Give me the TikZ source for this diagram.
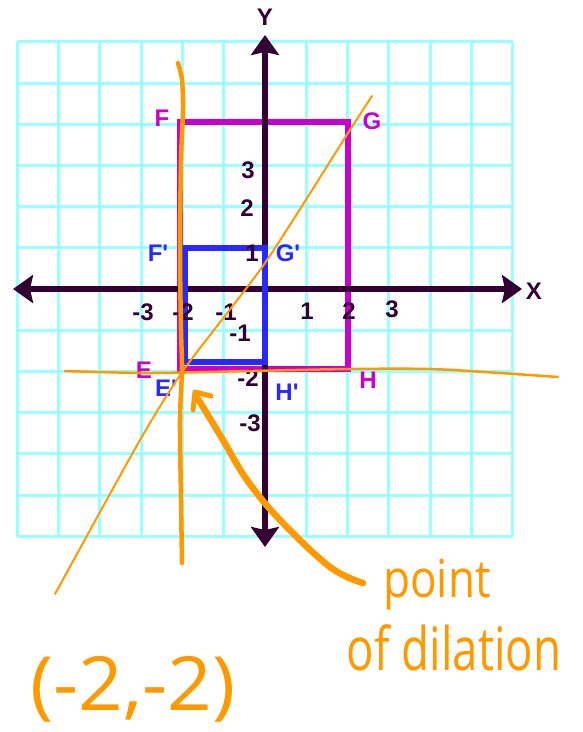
\documentclass[tikz,border=0pt]{standalone}
\usepackage{fontspec}
\setmainfont{Liberation Sans}
\newfontfamily\hand{Open Sans}
\usetikzlibrary{arrows.meta}
\definecolor{gridc}{RGB}{153,255,255}
\definecolor{axisc}{RGB}{51,0,51}
\definecolor{magc}{RGB}{204,0,204}
\definecolor{bluec}{RGB}{40,40,255}
\definecolor{orc}{RGB}{255,153,0}
\begin{document}
\begin{tikzpicture}[x=1pt,y=-1pt,
  gridline/.style={gridc, line width=3pt},
  axisline/.style={axisc, line width=6pt, {Stealth[length=20pt,width=28pt,inset=3pt]}-{Stealth[length=20pt,width=28pt,inset=3pt]}},
  lab/.style={font=\fontsize{24}{24}\selectfont\bfseries, inner sep=0pt},
  axlab/.style={lab, text=axisc},
  mlab/.style={lab, text=magc},
  blab/.style={lab, text=bluec},
  ornline/.style={orc, line cap=round, line join=round},
  handtext/.style={text=orc, inner sep=0pt, anchor=base}]
\useasboundingbox (0,0) rectangle (583,732);
\fill[white] (0,0) rectangle (583,732);
% grid
\begin{scope}[shift={(265,289)}, x=41.3pt, y=41.2pt]
  \foreach \i in {-6,...,6} {
    \draw[gridline] (\i,-6) -- (\i,6);
    \draw[gridline] (-6,\i) -- (6,\i);
  }
  % magenta rectangle EFGH
  \draw[magc, line width=6pt] (-2.06,-1.95) rectangle (2.01,4.05);
\end{scope}
% axes
\draw[axisline] (13,289) -- (522,289);
\draw[axisline] (265,35) -- (265,547);
% blue rectangle E'F'G'H'
\begin{scope}[shift={(265,289)}, x=41.3pt, y=41.2pt]
  \draw[bluec, line width=6pt] (-1.93,-1.77) rectangle (0,1);
\end{scope}
% axis names
\node[axlab] (ylab) at (265,17) {Y};
\node[axlab] (xlab) at (534,291) {X};
% tick labels
\node[axlab] (y3) at (248,170) {3};
\node[axlab] (y2) at (247,208) {2};
\node[axlab] (y1) at (252,253) {1};
\node[axlab] (ym1) at (240,333) {-1};
\node[axlab] (ym2) at (248,378) {-2};
\node[axlab] (ym3) at (250,423) {-3};
\node[axlab] (xm3) at (143,312) {-3};
\node[axlab] (xm2) at (183,312) {-2};
\node[axlab] (xm1) at (226,312) {-1};
\node[axlab] (x1) at (307,311) {1};
\node[axlab] (x2) at (349,311) {2};
\node[axlab] (x3) at (392,309) {3};
% vertex labels
\node[mlab] (F) at (162,118) {F};
\node[mlab] (G) at (372,121) {G};
\node[mlab] (E) at (144,370) {E};
\node[mlab] (H) at (368,380) {H};
\node[blab] (Fp) at (158,253) {F\textquotesingle};
\node[blab] (Gp) at (288,253) {G\textquotesingle};
\node[blab] (Ep) at (166,388) {E\textquotesingle};
\node[blab] (Hp) at (287,392) {H\textquotesingle};
% orange hand-drawn lines
\draw[ornline, line width=2pt] plot[smooth, tension=0.4] coordinates {(372,96) (348,133) (265,263) (185,368) (140,440) (55,594)};
\draw[ornline, line width=4.5pt] plot[smooth, tension=0.5] coordinates {(178,63) (182,80) (183,110) (181,160) (180,250) (181,330) (182,368) (180,420) (181,500) (182,563)};
\draw[ornline, line width=2.5pt] plot[smooth, tension=0.5] coordinates {(65,371) (150,373) (250,371) (350,369) (430,369) (500,373) (558,377)};
% arrow to the point of dilation
\draw[ornline, line width=6.5pt] plot[smooth, tension=0.6] coordinates {(363,583) (330,567) (280,520) (247,480) (223,440) (203,407) (196,396)};
\coordinate (tip) at (195,392);
\coordinate (armL) at (193,410);
\coordinate (armR) at (211,396);
\draw[ornline, line width=5pt] (armL) -- (tip) -- (armR);
% handwritten notes
\node[handtext] (point) at (437,597) {\scalebox{1.05}[1.25]{\hand\fontsize{42}{42}\selectfont point}};
\node[handtext] (ofdil) at (454,670) {\scalebox{0.95}[1.25]{\hand\fontsize{48}{48}\selectfont of dilation}};
\node[handtext] (coord) at (133,710) {\scalebox{1.15}[1.1]{\hand\fontsize{68}{68}\selectfont (-2,-2)}};
\end{tikzpicture}
\end{document}
